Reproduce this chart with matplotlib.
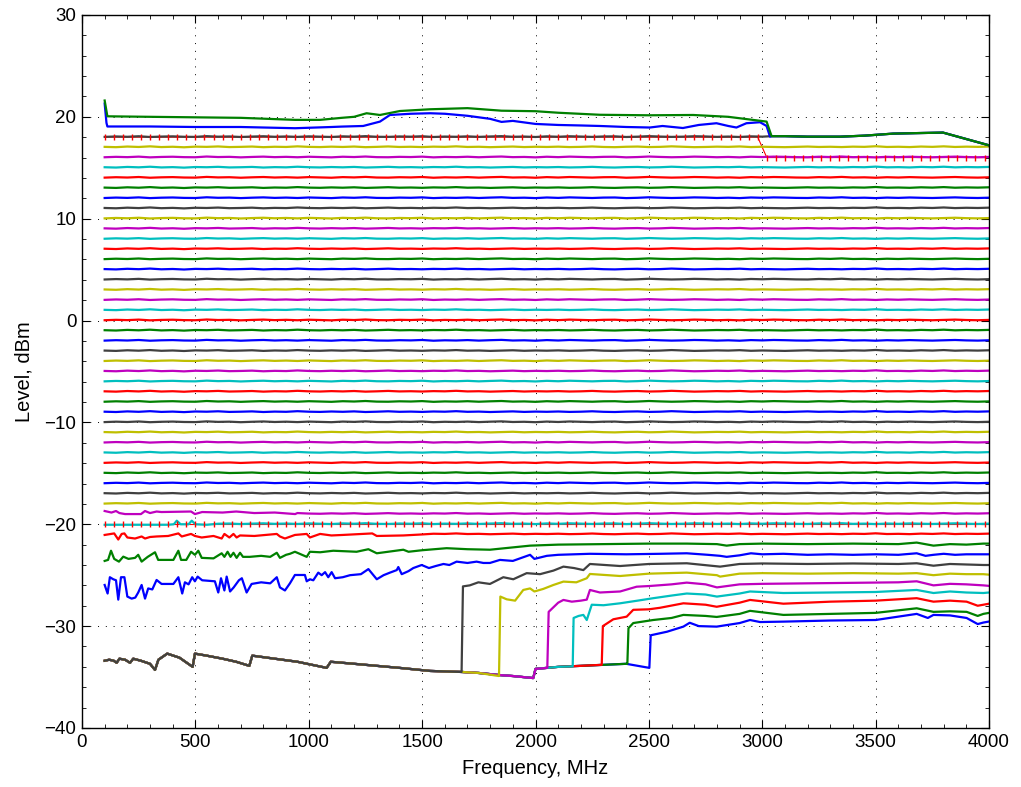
import numpy as np
import matplotlib.pyplot as plt
from matplotlib.ticker import MultipleLocator

plt.rcParams['font.family'] = ['Liberation Sans', 'DejaVu Sans']

# sweep grid used for the flat traces, MHz
freq = np.arange(100, 4001, 50)

# set levels of the flat traces (traces 12..48), dBm
flat_levels = list(range(-19, 18))

# small ripple, dB
ripple_a = [0.05, 0.02, 0.08, 0.04, 0.10, 0.03, 0.06, 0.01, 0.07, 0.05,
            0.09, 0.03, 0.05, 0.08, 0.02, 0.06, 0.04, 0.10, 0.05, 0.03,
            0.07, 0.04, 0.08, 0.02, 0.05, 0.09, 0.04, 0.06, 0.03, 0.07,
            0.05, 0.10, 0.04, 0.06, 0.02, 0.05, 0.08, 0.03, 0.06, 0.04,
            0.07, 0.03, 0.05, 0.09, 0.04, 0.02, 0.06, 0.08, 0.03, 0.05,
            0.10, 0.06, 0.02, 0.04, 0.07, 0.05, 0.09, 0.03, 0.06, 0.04,
            0.02, 0.05, 0.08, 0.04, 0.06, 0.03, 0.07, 0.05, 0.11, 0.04,
            0.06, 0.03, 0.08, 0.05, 0.10, 0.04, 0.07, 0.05, 0.08]
ripple_b = [0.03, 0.07, 0.04, 0.09, 0.02, 0.06, 0.08, 0.04, 0.03, 0.10,
            0.05, 0.07, 0.02, 0.06, 0.09, 0.04, 0.07, 0.03, 0.08, 0.05,
            0.02, 0.08, 0.05, 0.10, 0.04, 0.03, 0.07, 0.05, 0.09, 0.02,
            0.06, 0.04, 0.08, 0.03, 0.07, 0.10, 0.04, 0.06, 0.02, 0.08,
            0.04, 0.09, 0.06, 0.03, 0.07, 0.08, 0.02, 0.05, 0.10, 0.06,
            0.03, 0.05, 0.09, 0.07, 0.03, 0.06, 0.02, 0.08, 0.05, 0.09,
            0.07, 0.04, 0.03, 0.08, 0.05, 0.10, 0.04, 0.06, 0.02, 0.07,
            0.04, 0.08, 0.05, 0.03, 0.06, 0.09, 0.05, 0.03, 0.06]

# noise floor shared by the seven lowest traces
floor_f = [100, 120, 140, 153, 165, 190, 212, 226, 260, 300, 322, 337, 376, 430,
           488, 498, 550, 620, 680, 738, 751, 850, 950, 1079, 1097, 1200, 1300,
           1400, 1535, 1674, 1750, 1839, 1900, 1990, 2000, 2100, 2200, 2300, 2400, 2502]
floor_v = [-33.4, -33.3, -33.4, -33.6, -33.2, -33.3, -33.6, -33.2, -33.4, -33.7,
           -34.3, -33.3, -32.7, -33.1, -34.0, -32.7, -32.9, -33.2, -33.5, -33.9,
           -32.9, -33.2, -33.5, -34.1, -33.5, -33.7, -33.9, -34.1, -34.4, -34.5,
           -34.6, -34.8, -34.9, -35.1, -34.2, -34.0, -33.9, -33.8, -33.7, -34.1]

# low traces after they leave the floor
t1_f = [2502, 2508, 2580, 2652, 2680, 2720, 2799, 2900, 2946, 2990, 3093, 3300,
        3500, 3681, 3730, 3755, 3828, 3901, 3950, 3975, 4000]
t1_v = [-34.1, -30.9, -30.55, -30.05, -29.67, -30.0, -30.05, -29.7, -29.4, -29.6,
        -29.56, -29.45, -29.4, -28.8, -29.2, -28.9, -28.95, -29.2, -29.8, -29.65, -29.55]
t2_f = [2405, 2410, 2431, 2519, 2600, 2652, 2750, 2799, 2900, 2946, 3093, 3300,
        3500, 3681, 3755, 3828, 3901, 3950, 3975, 4000]
t2_v = [-33.7, -30.2, -29.7, -29.4, -29.2, -28.9, -29.0, -29.1, -28.8, -28.5,
        -28.9, -28.8, -28.7, -28.25, -28.6, -28.55, -28.6, -29.0, -28.8, -28.7]
t3_f = [2292, 2297, 2343, 2402, 2431, 2500, 2549, 2652, 2750, 2799, 2900, 2946,
        3093, 3300, 3500, 3681, 3755, 3828, 3901, 3950, 3975, 4000]
t3_v = [-33.8, -30.0, -29.33, -29.07, -28.4, -28.35, -28.2, -27.76, -27.9, -28.1,
        -27.7, -27.43, -27.8, -27.6, -27.5, -27.26, -27.6, -27.5, -27.6, -28.0, -27.9, -27.8]
t4_f = [2164, 2168, 2190, 2211, 2226, 2248, 2300, 2373, 2450, 2519, 2600, 2667,
        2750, 2800, 2900, 2946, 3093, 3300, 3500, 3681, 3755, 3828, 3900, 3975, 4000]
t4_v = [-33.95, -29.2, -29.0, -28.9, -29.4, -27.9, -27.95, -27.76, -27.5, -27.26,
        -27.0, -26.8, -26.9, -27.1, -26.8, -26.6, -26.75, -26.7, -26.65, -26.45,
        -26.75, -26.6, -26.7, -26.75, -26.7]
t5_f = [2052, 2058, 2100, 2123, 2160, 2200, 2226, 2240, 2284, 2373, 2446, 2505,
        2600, 2667, 2750, 2800, 2900, 3000, 3200, 3400, 3600, 3681, 3755, 3828,
        3900, 3975, 4000]
t5_v = [-34.1, -28.6, -27.7, -27.43, -27.6, -27.5, -27.4, -26.45, -26.7, -26.6,
        -26.13, -26.06, -25.9, -25.73, -25.9, -26.2, -25.9, -25.85, -25.8, -25.75,
        -25.7, -25.6, -26.0, -25.85, -25.9, -26.0, -26.05]
t6_f = [1839, 1845, 1873, 1910, 1946, 1976, 1995, 2034, 2079, 2123, 2180, 2226,
        2240, 2373, 2500, 2667, 2800, 2814, 2900, 3000, 3200, 3400, 3600, 3681,
        3755, 3828, 3900, 3975, 4000]
t6_v = [-34.9, -27.1, -27.37, -27.5, -26.45, -26.3, -26.6, -26.35, -25.96, -25.63,
        -25.7, -25.3, -24.88, -25.08, -24.85, -24.75, -25.0, -25.14, -24.85, -24.8,
        -24.85, -24.8, -24.85, -24.8, -25.0, -24.85, -24.9, -24.9, -24.95]
t7_f = [1674, 1680, 1710, 1748, 1799, 1858, 1902, 1961, 2020, 2079, 2123, 2170,
        2211, 2240, 2373, 2500, 2667, 2814, 2900, 3000, 3200, 3400, 3600, 3681,
        3755, 3828, 3900, 3975, 4000]
t7_v = [-34.5, -26.1, -26.0, -25.7, -25.86, -25.2, -25.4, -24.8, -24.9, -24.55,
        -24.16, -24.3, -24.5, -23.9, -24.1, -23.9, -23.83, -24.16, -23.9, -23.85,
        -23.9, -23.85, -23.9, -23.83, -24.07, -23.9, -23.95, -24.0, -24.0]

# noisy traces 8 and 9
t8_f = [100, 113, 123, 138, 150, 160, 172, 187, 200, 219, 235, 248, 263, 278, 292,
        310, 329, 351, 403, 425, 442, 454, 470, 486, 498, 510, 530, 586, 601, 613,
        628, 638, 653, 669, 692, 705, 726, 748, 790, 830, 859, 873, 895, 917, 939,
        983, 991, 1005, 1020, 1042, 1057, 1072, 1086, 1101, 1116, 1150, 1182, 1230,
        1263, 1300, 1330, 1358, 1388, 1395, 1410, 1440, 1461, 1498, 1530, 1560, 1594,
        1620, 1652, 1700, 1740, 1770, 1799, 1843, 1900, 1976, 1995, 2050, 2100, 2240,
        2400, 2550, 2667, 2760, 2814, 2843, 2900, 2950, 3000, 3093, 3200, 3300, 3400,
        3500, 3600, 3681, 3720, 3755, 3800, 3850, 3900, 3975, 4000]
t8_v = [-25.96, -26.8, -25.2, -25.4, -25.5, -27.4, -25.2, -25.2, -27.1, -27.3,
        -27.2, -26.7, -25.96, -27.3, -26.3, -26.4, -25.47, -25.86, -25.86, -25.2,
        -26.8, -25.7, -25.9, -25.2, -25.6, -25.14, -25.5, -25.6, -26.7, -25.3,
        -26.5, -25.14, -26.6, -26.2, -25.5, -25.3, -26.7, -25.86, -25.7, -25.8,
        -25.2, -26.2, -26.5, -25.8, -24.98, -24.98, -25.6, -25.4, -25.5, -24.75,
        -25.0, -24.7, -25.2, -24.7, -25.3, -25.2, -25.0, -24.9, -24.4, -25.4,
        -25.0, -24.75, -24.5, -24.2, -24.9, -24.6, -24.3, -24.0, -24.3, -24.1,
        -23.9, -24.0, -23.67, -23.8, -23.67, -23.8, -23.8, -23.5, -23.6, -23.0,
        -23.4, -23.1, -23.0, -22.9, -22.95, -22.9, -22.85, -23.0, -23.1, -23.2,
        -23.05, -22.85, -22.95, -22.9, -23.0, -22.95, -23.0, -22.95, -23.0, -22.85,
        -23.1, -23.0, -22.9, -23.0, -22.95, -22.95, -22.95]
t9_f = [100, 115, 128, 142, 163, 182, 205, 234, 248, 263, 290, 322, 336, 370, 403,
        425, 437, 460, 481, 498, 513, 528, 580, 616, 628, 642, 655, 668, 682, 697,
        710, 740, 790, 830, 859, 873, 900, 917, 939, 960, 991, 1005, 1050, 1108, 1211,
        1263, 1300, 1350, 1417, 1440, 1500, 1608, 1700, 1799, 1976, 2100, 2300, 2500,
        2667, 2800, 2843, 2900, 3000, 3200, 3400, 3600, 3681, 3755, 3828, 3900, 3975, 4000]
t9_v = [-23.6, -23.5, -22.6, -23.4, -23.67, -23.18, -23.4, -23.3, -23.0, -23.67,
        -23.2, -22.75, -23.5, -23.5, -23.5, -22.6, -23.5, -23.5, -22.7, -23.0,
        -22.6, -23.3, -23.35, -22.85, -23.2, -22.7, -23.2, -22.8, -23.3, -22.8,
        -23.2, -23.2, -23.1, -23.2, -22.8, -23.3, -23.0, -22.9, -22.7, -22.9,
        -23.2, -22.7, -22.75, -22.6, -22.7, -22.45, -22.85, -22.7, -22.5, -22.7,
        -22.55, -22.35, -22.45, -22.5, -22.1, -22.0, -21.95, -21.9, -21.9, -21.95,
        -22.1, -21.95, -21.9, -21.95, -21.9, -21.95, -21.8, -22.1, -21.95, -22.0,
        -21.9, -21.9]

# noisy low-frequency start of traces 10, 11, 12
t10_f = [100, 142, 160, 175, 187, 200, 234, 263, 278, 300, 329, 380, 425, 440, 481,
         498, 528, 580, 616, 628, 650, 668, 682, 697, 760, 859, 873, 895, 939, 991,
         1005, 1050, 1100, 1150, 1280, 1300, 1417, 1500]
t10_v = [-21.05, -20.9, -21.5, -20.95, -20.9, -21.3, -21.4, -21.2, -21.4, -21.25,
         -21.2, -21.15, -20.9, -21.2, -20.95, -21.15, -21.3, -21.15, -21.4, -20.95,
         -21.3, -20.95, -21.3, -21.1, -21.15, -20.95, -21.2, -21.4, -21.05, -20.95,
         -21.3, -20.95, -21.1, -21.05, -20.9, -21.15, -21.1, -21.0]
t11_f = [100, 380, 405, 418, 435, 470, 484, 500, 550]
t11_v = [-20.05, -20.05, -20.0, -19.65, -20.0, -20.0, -19.65, -20.0, -20.05]
t12_f = [100, 130, 150, 165, 190, 230, 260, 278, 300, 329, 350, 481, 498, 530, 620,
         680, 760, 850, 940]
t12_v = [-18.7, -18.85, -18.7, -18.9, -19.0, -19.0, -19.0, -18.7, -18.9, -18.75,
         -18.8, -18.75, -19.0, -18.8, -18.85, -18.75, -18.9, -18.85, -19.0]

# top three traces; above 3 GHz they all follow the same saturated curve
t50_f = [100, 108, 112, 300, 500, 700, 940, 1100, 1145, 1240, 1314, 1358, 1450, 1535,
         1600, 1700, 1800, 1850, 1900, 2000, 2100, 2200, 2284, 2400, 2504, 2560, 2650,
         2720, 2798, 2850, 2886, 2930, 2990, 3019, 3034]
t50_v = [21.3, 19.4, 19.05, 19.05, 19.0, 19.0, 18.88, 19.0, 19.04, 19.1, 19.53, 20.18,
         20.3, 20.35, 20.3, 20.1, 19.8, 19.5, 19.6, 19.3, 19.2, 19.15, 19.1, 19.0,
         18.95, 19.1, 18.9, 19.2, 19.37, 19.1, 18.95, 19.37, 19.47, 19.1, 18.05]
t51_f = [100, 112, 300, 500, 700, 940, 1050, 1145, 1200, 1255, 1314, 1402, 1535, 1700,
         1850, 2000, 2100, 2284, 2500, 2695, 2850, 3019]
t51_v = [21.6, 20.05, 20.0, 19.95, 19.9, 19.7, 19.7, 19.9, 20.0, 20.35, 20.18, 20.57,
         20.74, 20.85, 20.6, 20.55, 20.4, 20.2, 20.15, 20.18, 20.0, 19.53]
sat_f = [3041, 3100, 3200, 3343, 3450, 3577, 3681, 3797, 4000]
sat_v = [18.1, 18.1, 18.05, 18.05, 18.15, 18.35, 18.4, 18.45, 17.2]

# limit marks (40 MHz step)
lim_f = np.arange(100, 4000, 40)
lim_hi = [18.0] * 73 + [16.0] * 25
lim_lo = [-20.0] * 98

colors = [(0, 0, 1), (0, 0.5, 0), (1, 0, 0), (0, 0.75, 0.75),
          (0.75, 0, 0.75), (0.75, 0.75, 0), (0.25, 0.25, 0.25)]


def from_floor(up_f, up_v):
    fl = np.array(floor_f)
    keep = fl < up_f[0]
    return (np.concatenate([fl[keep], up_f]),
            np.concatenate([np.array(floor_v)[keep], up_v]))


def flat(level, ripple, head_f=None, head_v=None, stop=None):
    f = freq
    v = level + np.array(ripple)
    keep = np.ones(len(f), bool)
    if head_f is not None:
        keep &= f > head_f[-1]
    if stop is not None:
        keep &= f <= stop
    f, v = f[keep], v[keep]
    if head_f is not None:
        f = np.concatenate([head_f, f])
        v = np.concatenate([head_v, v])
    return f, v


traces = [from_floor(t1_f, t1_v), from_floor(t2_f, t2_v), from_floor(t3_f, t3_v),
          from_floor(t4_f, t4_v), from_floor(t5_f, t5_v), from_floor(t6_f, t6_v),
          from_floor(t7_f, t7_v),
          (np.array(t8_f), np.array(t8_v)), (np.array(t9_f), np.array(t9_v))]
traces.append(flat(-21, ripple_a, t10_f, t10_v))
traces.append(flat(-20, ripple_b, t11_f, t11_v))
traces.append(flat(flat_levels[0], ripple_a, t12_f, t12_v))
for i, lev in enumerate(flat_levels[1:]):
    traces.append(flat(lev, ripple_b if i % 2 == 0 else ripple_a))
f49, v49 = flat(18, ripple_b, stop=3000)
traces.append((np.concatenate([f49, sat_f]), np.concatenate([v49, sat_v])))
traces.append((np.concatenate([t50_f, sat_f]), np.concatenate([t50_v, sat_v])))
traces.append((np.concatenate([t51_f, sat_f]), np.concatenate([t51_v, sat_v])))

fig = plt.figure(figsize=(10.21, 7.87), dpi=100)
ax = fig.add_axes([0.0803, 0.075, 0.8884, 0.906])

# limit line sits under the traces, only its tick marks show
ax.plot(lim_f, lim_hi, color='r', lw=0.8)
ax.plot(lim_f, lim_lo, color='r', lw=0.8)
for i, (f, v) in enumerate(traces):
    ax.plot(f, v, color=colors[i % 7], lw=1.6)
ax.plot(lim_f, lim_hi, color='r', ls='none', marker='|', ms=5, mew=1.0)
ax.plot(lim_f, lim_lo, color='r', ls='none', marker='|', ms=5, mew=1.0)

ax.set_xlim(0, 4000)
ax.set_ylim(-40, 30)
ax.set_xticks(range(0, 4001, 500))
ax.set_yticks(range(-40, 31, 10))
ax.xaxis.set_minor_locator(MultipleLocator(100))
ax.yaxis.set_minor_locator(MultipleLocator(2))
ax.tick_params(which='both', direction='in', top=True, right=True, labelsize=13.5, pad=4)
ax.tick_params(which='major', length=6)
ax.tick_params(which='minor', length=3)
ax.grid(True, which='major', color='k', linestyle=(0, (1, 7)), linewidth=0.7)
for s in ax.spines.values():
    s.set_linewidth(1.0)
ax.set_xlabel('Frequency, MHz', fontsize=14.5, labelpad=6)
ax.set_ylabel('Level, dBm', fontsize=14.5, labelpad=8)

fig.savefig('out.png', dpi=100)
